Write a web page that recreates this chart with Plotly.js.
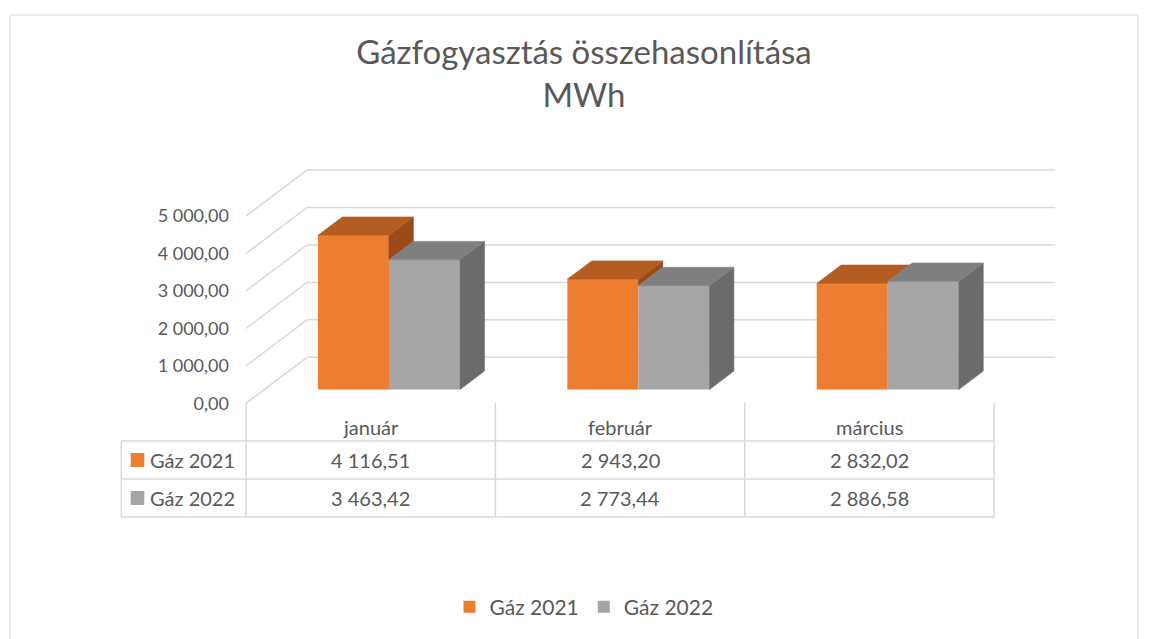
<!DOCTYPE html>
<html><head><meta charset="utf-8">
<script src="https://cdn.plot.ly/plotly-3.0.1.min.js"></script>
<style>html,body{margin:0;padding:0;background:#fff}#chart{width:1150px;height:639px}</style>
</head><body><div id="chart"></div>
<script>
// ---------------- data ----------------
const categories = ['január', 'február', 'március'];
const seriesNames = ['Gáz 2021', 'Gáz 2022'];
const gas2021 = [4116.51, 2943.20, 2832.02];
const gas2022 = [3463.42, 2773.44, 2886.58];
const yTickValues = [0, 1000, 2000, 3000, 4000, 5000];
const chartTitle = 'Gázfogyasztás összehasonlítása<br>MWh';

// ---------------- style ----------------
const FONT = 'Lato, "Open Sans", sans-serif';
const TEXT = '#595959';
const GRID = '#D9D9D9';
const faceColors = [
  {front: '#ED7D31', top: '#B45D21', side: '#9A4B19'},
  {front: '#A5A5A5', top: '#7F7F7F', side: '#6B6B6B'}
];

// ---------------- geometry (pixel layout of the 3D projection) ----------------
const W = 1150, H = 639;
const PL = 246, PR = 1059, PT = 165, PB = 405;   // plot area in px
const COLW = 249.4;                               // px per category
const Y0PX = 403.3, PXU = 0.03745;                // px of value 0, px per unit
const XMIN = -0.5, XMAX = XMIN + (PR - PL) / COLW;
const YMIN = -(PB - Y0PX) / PXU, YMAX = (Y0PX - PT) / PXU;
const WDX = 61 / COLW, WDY = 46 / PXU;            // full wall depth offset
const F0 = 0.3, F1 = 0.7;                         // bar depth (fraction)
const BASE = F0 * WDY, XS = F0 * WDX;
const DX = (F1 - F0) * WDX, DY = (F1 - F0) * WDY;
const BW = 0.285;
const pxX = p => (p - PL) / (PR - PL);
const pxY = p => (PB - p) / (PB - PT);

function fmt(v) {
  const parts = v.toFixed(2).split('.');
  return parts[0].replace(/\B(?=(\d{3})+(?!\d))/g, ' ') + ',' + parts[1];
}

const series = [gas2021, gas2022];
const traces = [];

// front faces: real bar traces
series.forEach((vals, s) => {
  traces.push({
    type: 'bar', name: seriesNames[s],
    x: categories.map((c, i) => i), y: vals,
    base: BASE, width: BW, offset: s === 0 ? XS - BW : XS,
    marker: {color: faceColors[s].front, line: {width: 0}},
    hoverinfo: 'skip'
  });
});

function poly(pts, color) {
  traces.push({
    type: 'scatter', mode: 'lines', fill: 'toself',
    x: pts.map(p => p[0]).concat([pts[0][0]]),
    y: pts.map(p => p[1]).concat([pts[0][1]]),
    fillcolor: color, line: {color: color, width: 0.6},
    hoverinfo: 'skip', showlegend: false
  });
}

categories.forEach((c, i) => {
  const a = BASE + gas2021[i], b = BASE + gas2022[i];
  // orange box
  const oxl = i + XS - BW, oxr = i + XS;
  if (a > b) {
    poly([[oxr, b], [oxr, a], [oxr + DX, a + DY], [oxr + DX, b + DY]], faceColors[0].side);
    poly([[oxl, a], [oxr, a], [oxr + DX, a + DY], [oxl + DX, a + DY]], faceColors[0].top);
  } else {
    const t = Math.max(0, (a + DY - b) / DY);
    poly([[oxl, a], [oxr, a], [oxr, Math.min(b, a + DY)], [oxr + t * DX, a + DY], [oxl + DX, a + DY]], faceColors[0].top);
  }
  // gray box
  const gxl = i + XS, gxr = i + XS + BW;
  poly([[gxr, BASE], [gxr, b], [gxr + DX, b + DY], [gxr + DX, BASE + DY]], faceColors[1].side);
  poly([[gxl, b], [gxr, b], [gxr + DX, b + DY], [gxl + DX, b + DY]], faceColors[1].top);
});

// ---------------- shapes ----------------
const shapes = [];
// walls (below traces)
yTickValues.forEach(t => {
  shapes.push({type: 'line', xref: 'x', yref: 'y', layer: 'below',
    x0: XMIN + WDX, x1: XMIN + categories.length + WDX, y0: t + WDY, y1: t + WDY,
    line: {color: GRID, width: 1.5}});
  shapes.push({type: 'line', xref: 'x', yref: 'y', layer: 'below',
    x0: XMIN, x1: XMIN + WDX, y0: t, y1: t + WDY,
    line: {color: GRID, width: 1.5}});
});
// data table grid
const tTop = 403, tHead = 441, tRow1 = 479, tBot = 517, tLeft = 121.3;
const colPx = k => PL + k * COLW;
for (let k = 0; k <= categories.length; k++) {
  shapes.push({type: 'line', xref: 'paper', yref: 'paper',
    x0: pxX(colPx(k)), x1: pxX(colPx(k)), y0: pxY(tTop), y1: pxY(tBot),
    line: {color: GRID, width: 1.5}});
}
[tHead, tRow1, tBot].forEach(yy => {
  shapes.push({type: 'line', xref: 'paper', yref: 'paper',
    x0: pxX(tLeft), x1: pxX(colPx(categories.length)), y0: pxY(yy), y1: pxY(yy),
    line: {color: GRID, width: 1.5}});
});
shapes.push({type: 'line', xref: 'paper', yref: 'paper',
  x0: pxX(tLeft), x1: pxX(tLeft), y0: pxY(tHead), y1: pxY(tBot),
  line: {color: GRID, width: 1.5}});
// legend keys in table
const rowMid = [460, 498];
rowMid.forEach((ym, s) => {
  shapes.push({type: 'rect', xref: 'paper', yref: 'paper',
    x0: pxX(130.7), x1: pxX(144.3), y0: pxY(ym - 7), y1: pxY(ym + 7),
    fillcolor: faceColors[s].front, line: {width: 0}});
});
// chart area border
shapes.push({type: 'rect', xref: 'paper', yref: 'paper',
  x0: pxX(10), x1: pxX(1138), y0: pxY(15), y1: pxY(660),
  line: {color: GRID, width: 1}, fillcolor: 'rgba(0,0,0,0)'});

// ---------------- annotations (table text) ----------------
const annotations = [];
const tFont = {family: FONT, size: 20, color: TEXT};
categories.forEach((c, i) => {
  const cx = pxX(colPx(i) + COLW / 2);
  annotations.push({xref: 'paper', yref: 'paper', x: cx, y: pxY(427), text: c,
    showarrow: false, font: tFont, xanchor: 'center', yanchor: 'middle'});
  series.forEach((vals, s) => {
    annotations.push({xref: 'paper', yref: 'paper', x: cx, y: pxY(rowMid[s]), text: fmt(vals[i]),
      showarrow: false, font: tFont, xanchor: 'center', yanchor: 'middle'});
  });
});
seriesNames.forEach((n, s) => {
  annotations.push({xref: 'paper', yref: 'paper', x: pxX(148), y: pxY(rowMid[s]), text: n,
    showarrow: false, font: tFont, xanchor: 'left', yanchor: 'middle'});
});

const layout = {
  width: W, height: H,
  margin: {l: PL, r: W - PR, t: PT, b: H - PB, pad: 0},
  paper_bgcolor: '#ffffff', plot_bgcolor: 'rgba(0,0,0,0)',
  font: {family: FONT, color: TEXT},
  title: {text: chartTitle, font: {family: FONT, size: 33, color: TEXT},
    xref: 'container', x: 584 / W, xanchor: 'center',
    yref: 'container', y: 1 - 64 / H, yanchor: 'top'},
  barmode: 'overlay',
  xaxis: {range: [XMIN, XMAX], showgrid: false, zeroline: false, showline: false,
    showticklabels: false, ticks: '', fixedrange: true},
  yaxis: {range: [YMIN, YMAX], tickvals: yTickValues, ticktext: yTickValues.map(fmt),
    showgrid: false, zeroline: false, showline: false, ticks: '',
    ticklabelstandoff: 16, tickfont: {family: FONT, size: 18, color: TEXT}, fixedrange: true},
  showlegend: true,
  legend: {orientation: 'h', xref: 'paper', yref: 'paper',
    x: pxX(584), xanchor: 'center', y: pxY(607), yanchor: 'middle',
    font: {family: FONT, size: 21, color: TEXT}, itemwidth: 30, bgcolor: 'rgba(0,0,0,0)'},
  shapes: shapes,
  annotations: annotations
};

Plotly.newPlot('chart', traces, layout, {staticPlot: true, displayModeBar: false});
</script>
</body></html>
